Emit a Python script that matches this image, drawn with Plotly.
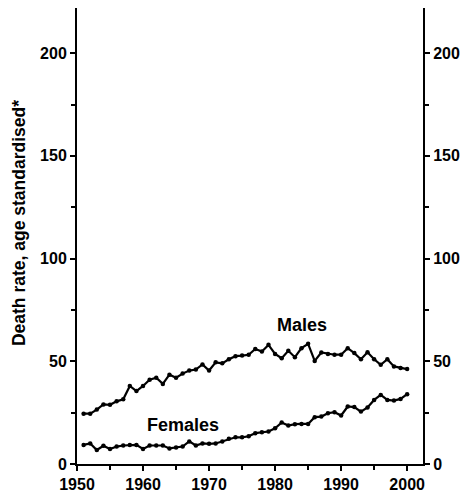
import plotly.graph_objects as go

years = list(range(1951, 2001))
males = [24.5, 24.5, 26.5, 29.0, 28.8, 30.5, 31.5, 38.0, 35.5, 38.0,
         41.0, 42.0, 39.0, 43.5, 42.0, 44.0, 45.5, 46.0, 48.5, 45.5,
         49.5, 49.0, 51.0, 52.5, 52.8, 53.2, 56.0, 54.8, 58.0, 53.6,
         51.5, 55.1, 52.0, 56.4, 58.5, 50.2, 54.3, 53.6, 53.2, 53.2,
         56.4, 54.0, 51.0, 54.4, 51.0, 48.3, 51.0, 47.5, 46.7, 46.2]
females = [9.3, 10.0, 6.8, 8.9, 7.3, 8.5, 9.0, 9.3, 9.3, 7.3,
           9.0, 9.0, 9.0, 7.6, 8.0, 8.5, 11.0, 9.0, 10.0, 9.8,
           10.0, 11.0, 12.3, 13.0, 13.0, 13.5, 15.0, 15.5, 15.8, 17.4,
           20.2, 18.7, 19.4, 19.5, 19.5, 22.8, 23.1, 24.7, 25.2, 23.6,
           28.0, 27.7, 25.5, 27.5, 31.2, 33.6, 31.2, 30.9, 31.7, 34.0]
y_ticks = [0, 50, 100, 150, 200]
x_ticks = [1950, 1960, 1970, 1980, 1990, 2000]

FAM = "Liberation Sans, Arial, sans-serif"
font = dict(family=FAM, size=16, color="black")

fig = go.Figure()
for vals in (males, females):
    fig.add_trace(go.Scatter(
        x=years, y=vals, mode="lines+markers",
        line=dict(color="black", width=2.2),
        marker=dict(color="black", size=4.5),
        showlegend=False, hoverinfo="skip"))
fig.add_trace(go.Scatter(x=[years[0]], y=[males[0]], yaxis="y2",
                         mode="markers", marker=dict(opacity=0),
                         showlegend=False, hoverinfo="skip"))

fig.add_annotation(x=1984, y=67.5, text="<b>Males</b>", showarrow=False,
                   font=dict(family=FAM, size=18, color="black"))
fig.add_annotation(x=1966, y=19, text="<b>Females</b>", showarrow=False,
                   font=dict(family=FAM, size=18, color="black"))
fig.add_annotation(xref="paper", yref="paper", x=-0.168, y=0.528,
                   xanchor="center", yanchor="middle",
                   text="<b>Death rate, age standardised*</b>", textangle=-90,
                   showarrow=False, font=dict(family=FAM, size=17.5, color="black"))

yax = dict(range=[0, 222], tickvals=y_ticks, ticktext=[f"<b>{v}</b>" for v in y_ticks],
           ticks="outside", ticklen=5, tickwidth=1.5, tickcolor="black",
           showline=True, linecolor="black", linewidth=2, showgrid=False,
           zeroline=False, tickfont=font, automargin=False,
           minor=dict(tickvals=[25, 75, 125, 175], ticks="outside", ticklen=4,
                      tickwidth=1.5, tickcolor="black", showgrid=False))

fig.update_layout(
    width=464, height=497,
    margin=dict(l=77, r=41, t=8, b=33),
    paper_bgcolor="white", plot_bgcolor="white",
    font=font,
    xaxis=dict(range=[1950, 2002.4], tickvals=x_ticks,
               ticktext=[f"<b>{v}</b>" for v in x_ticks],
               ticks="outside", ticklen=5, tickwidth=1.5, tickcolor="black",
               showline=True, linecolor="black", linewidth=2, showgrid=False,
               zeroline=False, tickfont=font, automargin=False,
               minor=dict(tickvals=[1955, 1965, 1975, 1985, 1995], ticks="outside",
                          ticklen=4, tickwidth=1.5, tickcolor="black", showgrid=False)),
    yaxis=yax,
    yaxis2=dict(**yax, overlaying="y", side="right"),
)

fig.write_html("out.html")
